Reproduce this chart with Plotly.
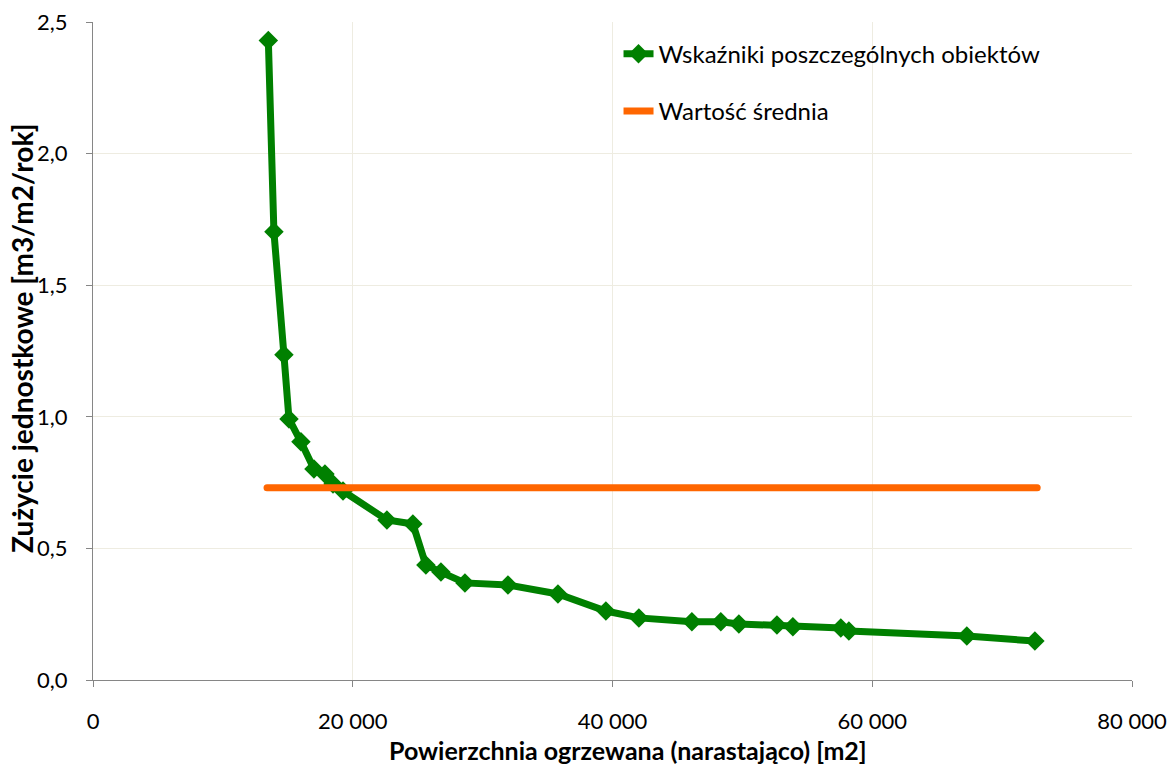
import plotly.graph_objects as go

# Data
area_cum = [13500, 13930, 14700, 15090, 16010, 17010, 17860, 18480, 19250,
            22630, 24630, 25630, 26790, 28640, 31950, 35800, 39490, 42030,
            46110, 48340, 49730, 52660, 53890, 57580, 58200, 67280, 72520]
usage = [2.43, 1.703, 1.236, 0.992, 0.905, 0.802, 0.783, 0.745, 0.718,
         0.608, 0.593, 0.437, 0.41, 0.369, 0.361, 0.327, 0.262, 0.236,
         0.221, 0.221, 0.213, 0.209, 0.202, 0.198, 0.186, 0.167, 0.148]
mean_x = [13400, 72700]
mean_val = 0.73

series_names = ["Wskaźniki poszczególnych obiektów", "Wartość średnia"]
x_title = "Powierzchnia ogrzewana (narastająco) [m2]"
y_title = "Zużycie jednostkowe [m3/m2/rok]"

FONT = "Lato"
grid = "#EEECE1"
axis_col = "#868686"

fig = go.Figure()
fig.add_trace(go.Scatter(
    x=area_cum, y=usage, mode="lines+markers", name=series_names[0],
    line=dict(color="#008000", width=7),
    marker=dict(symbol="diamond", size=15, color="#008000"),
    legendgroup="a"))
fig.add_trace(go.Scatter(
    x=mean_x, y=[mean_val, mean_val], mode="lines", name=series_names[1],
    line=dict(color="#FF6600", width=7), legendgroup="b"))

fig.update_layout(
    width=1169, height=769,
    margin=dict(l=93, r=37, t=22, b=89, autoexpand=False),
    paper_bgcolor="white", plot_bgcolor="white",
    separators=", ",
    font=dict(family=FONT, size=22, color="#000000"),
    showlegend=True,
    legend=dict(x=0.5058, y=0.9854, xanchor="left", yanchor="top",
                font=dict(family=FONT, size=24, color="#000000"),
                traceorder="grouped", tracegroupgap=23,
                bgcolor="rgba(0,0,0,0)", itemwidth=30),
    xaxis=dict(range=[0, 80000], tickvals=[0, 20000, 40000, 60000, 80000],
               tickformat=",d", showgrid=True, gridcolor=grid, gridwidth=1,
               showline=True, linecolor=axis_col, linewidth=1,
               ticks="outside", ticklen=6, tickcolor=axis_col,
               tickfont=dict(family=FONT, size=22), zeroline=False,
               ticklabelstandoff=16, automargin=False),
    yaxis=dict(range=[0, 2.5], tickvals=[0, 0.5, 1.0, 1.5, 2.0, 2.5],
               tickformat=".1f", showgrid=True, gridcolor=grid, gridwidth=1,
               showline=True, linecolor=axis_col, linewidth=1,
               ticks="outside", ticklen=6, tickcolor=axis_col,
               tickfont=dict(family=FONT, size=22), zeroline=False,
               ticklabelstandoff=14, automargin=False),
)

fig.add_annotation(text="<b>" + x_title + "</b>", xref="paper", yref="paper",
                   x=(628 - 93) / 1039, y=-(750 - 680) / 658,
                   xanchor="center", yanchor="middle", showarrow=False,
                   font=dict(family=FONT, size=25))
fig.add_annotation(text="<b>" + y_title + "</b>", xref="paper", yref="paper",
                   x=-(93 - 22) / 1039, y=(680 - 338) / 658, textangle=-90,
                   xanchor="center", yanchor="middle", showarrow=False,
                   font=dict(family=FONT, size=28))

fig.write_html(
    "out.html",
    config={"displayModeBar": False, "responsive": False},
    post_script="document.body.style.margin='0';"
                "document.body.style.overflow='hidden';"
                "document.documentElement.style.overflow='hidden';"
                "document.querySelectorAll('.scatterlayer path.js-line')"
                ".forEach(function(p){p.style.strokeLinecap='round';});")
